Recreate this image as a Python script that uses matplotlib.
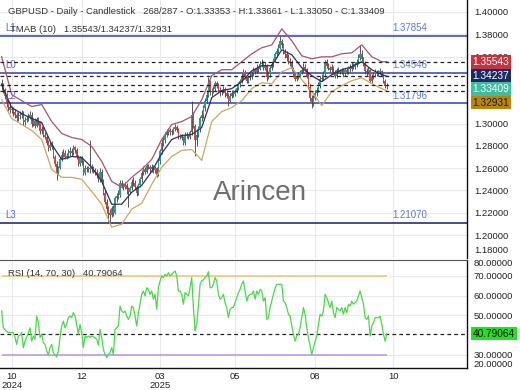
import numpy as np
import matplotlib
matplotlib.use("Agg")
import matplotlib.pyplot as plt
from matplotlib.ticker import FormatStrFormatter, FixedLocator

plt.rcParams['font.family'] = ['Liberation Sans', 'DejaVu Sans']

# ---------------- data (prices in pips, i.e. price * 10000) ----------------
opens_pips = [
    13360, 13335, 13300, 13250, 13180, 13150, 13120, 13130, 13100, 13080,
    13050, 13070, 13080, 13090, 13010, 13030, 13045, 13060, 13080, 13000,
    13020, 12980, 13040, 13010, 12930, 12950, 12900, 12880, 12830, 12780,
    12810, 12790, 12700, 12640, 12560, 12600, 12680, 12720, 12740, 12700,
    12710, 12740, 12750, 12740, 12790, 12760, 12700, 12640, 12690, 12650,
    12560, 12600, 12590, 12600, 12590, 12600, 12580, 12570, 12540, 12500,
    12570, 12480, 12380, 12300, 12230, 12200, 12180, 12240, 12200, 12330,
    12350, 12360, 12470, 12440, 12430, 12450, 12410, 12390, 12420, 12480,
    12470, 12430, 12380, 12450, 12500, 12560, 12590, 12570, 12620, 12610,
    12590, 12610, 12580, 12600, 12540, 12660, 12750, 12830, 12850, 12900,
    12920, 12940, 12920, 12930, 12950, 12970, 12940, 12880, 12890, 12870,
    12830, 12900, 12890, 12880, 12920, 13080, 12980, 12850, 12900, 12960,
    13050, 13080, 13140, 13200, 13260, 13370, 13280, 13290, 13310, 13360,
    13340, 13300, 13280, 13290, 13310, 13270, 13250, 13200, 13250, 13270,
    13265, 13290, 13320, 13350, 13380, 13420, 13460, 13420, 13380, 13410,
    13420, 13450, 13480, 13460, 13500, 13490, 13530, 13540, 13500, 13520,
    13420, 13440, 13500, 13530, 13570, 13620, 13650, 13680, 13740, 13700,
    13640, 13620, 13590, 13560, 13550, 13490, 13440, 13400, 13420, 13430,
    13460, 13480, 13510, 13490, 13430, 13330, 13230, 13180, 13230, 13270,
    13300, 13340, 13400, 13410, 13440, 13540, 13520, 13500, 13480, 13510,
    13460, 13430, 13480, 13470, 13460, 13480, 13450, 13480, 13460, 13500,
    13490, 13520, 13510, 13530, 13550, 13590, 13620, 13580, 13540, 13470,
    13460, 13480, 13380, 13420, 13440, 13460, 13455, 13460, 13470, 13430, 13380, 13335.3,
]
closes_pips = [
    13335, 13300, 13250, 13180, 13150, 13120, 13130, 13100, 13080, 13050,
    13070, 13080, 13090, 13010, 13030, 13045, 13060, 13080, 13000, 13020,
    12980, 13040, 13010, 12930, 12950, 12900, 12880, 12830, 12780, 12810,
    12790, 12700, 12640, 12560, 12600, 12680, 12720, 12740, 12700, 12710,
    12740, 12750, 12740, 12790, 12760, 12700, 12640, 12690, 12650, 12560,
    12600, 12590, 12600, 12590, 12600, 12580, 12570, 12540, 12500, 12570,
    12480, 12380, 12300, 12230, 12200, 12180, 12240, 12200, 12330, 12350,
    12360, 12470, 12440, 12430, 12450, 12410, 12390, 12420, 12480, 12470,
    12430, 12380, 12450, 12500, 12560, 12590, 12570, 12620, 12610, 12590,
    12610, 12580, 12600, 12540, 12660, 12750, 12830, 12850, 12900, 12920,
    12940, 12920, 12930, 12950, 12970, 12940, 12880, 12890, 12870, 12830,
    12900, 12890, 12880, 12920, 13080, 12980, 12850, 12900, 12960, 13050,
    13080, 13140, 13200, 13260, 13370, 13280, 13290, 13310, 13360, 13340,
    13300, 13280, 13290, 13310, 13270, 13250, 13200, 13250, 13270, 13265,
    13290, 13320, 13350, 13380, 13420, 13460, 13420, 13380, 13410, 13420,
    13450, 13480, 13460, 13500, 13490, 13530, 13540, 13500, 13520, 13420,
    13440, 13500, 13530, 13570, 13620, 13650, 13680, 13740, 13700, 13640,
    13620, 13590, 13560, 13550, 13490, 13440, 13400, 13420, 13430, 13460,
    13480, 13510, 13490, 13430, 13330, 13230, 13180, 13230, 13270, 13300,
    13340, 13400, 13410, 13440, 13540, 13520, 13500, 13480, 13510, 13460,
    13430, 13480, 13470, 13460, 13480, 13450, 13480, 13460, 13500, 13490,
    13520, 13510, 13530, 13550, 13590, 13620, 13580, 13540, 13470, 13460,
    13480, 13380, 13420, 13440, 13460, 13455, 13460, 13470, 13430, 13380, 13335.3, 13340.9,
]
highs_pips = [
    13400, 13365, 13320, 13270, 13210, 13190, 13160, 13150, 13130, 13100,
    13100, 13110, 13120, 13110, 13060, 13070, 13090, 13110, 13100, 13050,
    13050, 13060, 13060, 13020, 12980, 12970, 12920, 12900, 12850, 12840,
    12840, 12810, 12720, 12660, 12620, 12700, 12750, 12770, 12760, 12740,
    12770, 12790, 12780, 12810, 12800, 12780, 12720, 12710, 12710, 12670,
    12630, 12620, 12620, 12850, 12640, 12620, 12600, 12590, 12560, 12600,
    12590, 12500, 12400, 12320, 12260, 12230, 12260, 12270, 12350, 12380,
    12400, 12490, 12490, 12470, 12480, 12470, 12430, 12440, 12500, 12520,
    12490, 12450, 12470, 12520, 12580, 12620, 12610, 12640, 12640, 12630,
    12640, 12630, 12620, 12610, 12680, 12770, 12860, 12880, 12920, 12950,
    12960, 12960, 12950, 12970, 13000, 12990, 12960, 12910, 12910, 12890,
    12920, 12920, 12910, 12940, 13200, 13100, 13000, 12950, 12980, 13070,
    13120, 13170, 13230, 13300, 13420, 13390, 13320, 13340, 13380, 13380,
    13360, 13330, 13310, 13340, 13330, 13300, 13270, 13270, 13300, 13300,
    13310, 13340, 13370, 13400, 13450, 13490, 13480, 13430, 13430, 13450,
    13470, 13510, 13500, 13530, 13520, 13560, 13580, 13560, 13550, 13530,
    13470, 13520, 13560, 13590, 13640, 13680, 13710, 13786, 13760, 13720,
    13670, 13650, 13620, 13590, 13570, 13510, 13460, 13450, 13460, 13480,
    13500, 13540, 13530, 13500, 13450, 13350, 13260, 13260, 13300, 13330,
    13370, 13430, 13440, 13470, 13570, 13580, 13540, 13520, 13530, 13520,
    13480, 13500, 13510, 13490, 13500, 13500, 13500, 13500, 13520, 13530,
    13550, 13540, 13550, 13580, 13620, 13700, 13660, 13600, 13560, 13500,
    13510, 13490, 13440, 13460, 13490, 13480, 13480, 13500, 13480, 13440, 13400, 13366.1,
]
lows_pips = [
    13300, 13270, 13220, 13150, 13110, 13090, 13090, 13070, 13050, 13020,
    13020, 13040, 13050, 12990, 12990, 13010, 13020, 13040, 12970, 12980,
    12960, 12970, 12990, 12910, 12910, 12880, 12860, 12810, 12750, 12760,
    12770, 12690, 12620, 12490, 12540, 12590, 12660, 12700, 12680, 12680,
    12690, 12710, 12710, 12720, 12740, 12680, 12620, 12620, 12630, 12540,
    12540, 12570, 12570, 12560, 12570, 12560, 12540, 12510, 12480, 12480,
    12460, 12360, 12280, 12200, 12120, 12107, 12160, 12170, 12190, 12300,
    12320, 12340, 12420, 12400, 12410, 12370, 12250, 12370, 12400, 12440,
    12410, 12350, 12360, 12430, 12480, 12540, 12550, 12560, 12590, 12570,
    12570, 12560, 12560, 12520, 12530, 12640, 12730, 12800, 12830, 12880,
    12900, 12900, 12900, 12910, 12930, 12920, 12860, 12860, 12850, 12810,
    12810, 12870, 12860, 12860, 12900, 12960, 12710, 12800, 12880, 12920,
    13020, 13050, 13110, 13180, 13240, 13260, 13250, 13270, 13290, 13320,
    13280, 13250, 13260, 13270, 13240, 13230, 13160, 13190, 13230, 13240,
    13250, 13270, 13300, 13330, 13360, 13400, 13400, 13360, 13360, 13390,
    13400, 13430, 13440, 13450, 13460, 13480, 13510, 13480, 13480, 13380,
    13400, 13420, 13480, 13510, 13550, 13600, 13630, 13670, 13680, 13620,
    13590, 13560, 13530, 13520, 13470, 13420, 13380, 13380, 13400, 13410,
    13440, 13460, 13470, 13410, 13310, 13200, 13142, 13160, 13210, 13250,
    13280, 13320, 13380, 13390, 13420, 13500, 13480, 13460, 13460, 13440,
    13410, 13410, 13450, 13440, 13440, 13420, 13430, 13440, 13440, 13460,
    13470, 13490, 13490, 13510, 13530, 13570, 13560, 13520, 13440, 13430,
    13440, 13360, 13360, 13400, 13420, 13430, 13430, 13440, 13420, 13360, 13320, 13305.0,
]

rsi_values = [
    52.3, 43.8, 42.8, 42.0, 41.3, 41.5, 41.3, 41.3, 39.0, 35.4,
    39.6, 40.0, 41.3, 33.7, 37.0, 39.0, 41.0, 43.8, 37.0, 39.6,
    37.9, 49.7, 46.4, 38.8, 40.5, 36.2, 35.4, 32.0, 30.0, 33.7,
    35.4, 31.2, 30.0, 29.0, 32.0, 38.8, 44.7, 47.2, 43.8, 45.5,
    48.9, 49.7, 48.9, 51.4, 49.7, 45.5, 40.5, 45.5, 41.3, 33.7,
    39.6, 38.8, 39.6, 38.8, 39.6, 39.2, 38.8, 37.9, 35.0, 43.0,
    38.8, 32.9, 30.3, 28.6, 30.3, 31.2, 33.7, 30.3, 43.0, 43.8,
    44.7, 54.8, 52.3, 51.4, 52.3, 49.7, 48.0, 49.7, 54.8, 54.0,
    49.7, 44.7, 51.4, 55.7, 60.7, 62.4, 59.9, 64.1, 63.2, 60.7,
    62.4, 58.2, 60.7, 53.1, 64.1, 67.5, 70.0, 69.2, 70.8, 70.0,
    71.7, 70.0, 70.8, 71.7, 72.5, 70.0, 62.4, 62.4, 60.7, 55.7,
    61.6, 60.7, 59.9, 64.0, 69.2, 54.0, 42.1, 45.5, 55.0, 65.8,
    67.5, 68.0, 69.2, 70.0, 72.2, 64.1, 64.1, 65.8, 69.2, 67.5,
    60.7, 58.2, 59.0, 60.7, 56.5, 54.0, 48.9, 53.1, 54.0, 54.0,
    56.5, 59.0, 61.6, 63.2, 65.8, 67.5, 62.4, 57.3, 59.9, 60.7,
    60.7, 62.4, 58.2, 62.4, 60.7, 63.2, 62.4, 57.3, 59.0, 48.0,
    48.9, 54.0, 57.3, 60.7, 64.1, 65.8, 65.8, 65.8, 65.8, 57.3,
    56.5, 54.0, 50.6, 49.7, 44.7, 40.5, 37.0, 39.6, 40.5, 43.8,
    48.9, 54.0, 50.6, 43.8, 38.8, 34.6, 30.3, 33.7, 37.0, 39.6,
    45.5, 50.6, 49.7, 52.3, 60.7, 59.0, 56.5, 54.0, 57.3, 51.4,
    48.9, 54.0, 53.1, 52.3, 54.0, 50.6, 54.0, 51.4, 55.7, 54.8,
    57.3, 55.7, 56.5, 57.3, 59.9, 62.4, 59.0, 55.7, 48.9, 48.0,
    49.7, 39.6, 44.7, 46.4, 48.9, 48.9, 48.9, 49.7, 45.5, 40.5, 37.0, 40.79,
]

# TMAB(10) bands, sampled every 6th candle (plus the last one)
band_idx = [0, 6, 12, 18, 24, 30, 36, 42, 48, 54, 60, 66, 72, 78, 84, 90, 96, 102,
            108, 114, 120, 126, 132, 138, 144, 150, 156, 162, 168, 174, 180, 186,
            192, 198, 204, 210, 216, 222, 228, 231]
tmab_upper = [1.3598, 1.3259, 1.3205, 1.3152, 1.3170, 1.3018, 1.2911, 1.2875, 1.2857, 1.2795,
              1.2661, 1.2482, 1.2429, 1.2518, 1.2589, 1.2679, 1.2857, 1.2991, 1.3018, 1.3063,
              1.3214, 1.3429, 1.3482, 1.3482, 1.3554, 1.3625, 1.3679, 1.3705, 1.3848, 1.3741,
              1.3607, 1.3580, 1.3598, 1.3598, 1.3625, 1.3634, 1.3705, 1.3598, 1.3554, 1.35543]
tmab_mid = [1.3348, 1.3143, 1.3089, 1.3045, 1.3009, 1.2813, 1.2679, 1.2705, 1.2696, 1.2607,
            1.2482, 1.2277, 1.2277, 1.2384, 1.2446, 1.2571, 1.2732, 1.2857, 1.2893, 1.2902,
            1.2964, 1.3232, 1.3295, 1.3313, 1.3375, 1.3473, 1.3518, 1.3518, 1.3661, 1.3616,
            1.3500, 1.3429, 1.3375, 1.3438, 1.3482, 1.3509, 1.3554, 1.3482, 1.3438, 1.34237]
tmab_lower = [1.3214, 1.3045, 1.2991, 1.2938, 1.2857, 1.2589, 1.2518, 1.2518, 1.2500, 1.2393,
              1.2277, 1.2071, 1.2098, 1.2232, 1.2286, 1.2455, 1.2607, 1.2705, 1.2759, 1.2768,
              1.2670, 1.3018, 1.3107, 1.3143, 1.3205, 1.3313, 1.3366, 1.3357, 1.3464, 1.3500,
              1.3393, 1.3286, 1.3161, 1.3286, 1.3339, 1.3384, 1.3411, 1.3357, 1.3313, 1.32931]

level_values = [1.37854, 1.34546, 1.31796, 1.21070]
level_names = ['L1', 'L0', 'L2', 'L3']
last_values = [1.35543, 1.34237, 1.33409, 1.32931]   # TMAB upper / mid, close, TMAB lower
rsi_last = 40.79064
rsi_levels = [70, 30]

xtick_idx = [6, 48, 95, 140, 188, 235]
xtick_labels = ['10\n2024', '12', '03\n2025', '05', '08', '10']
price_ticks = [1.20, 1.22, 1.24, 1.26, 1.28, 1.30, 1.36, 1.38, 1.40]
price_edge_label = '1.18000'
rsi_ticks = [30, 50, 60, 70]
rsi_edge_labels = ['80.00000', '20.00000']

opens = np.array(opens_pips) / 10000.0
closes = np.array(closes_pips) / 10000.0
highs = np.array(highs_pips) / 10000.0
lows = np.array(lows_pips) / 10000.0
rsi = np.array(rsi_values)
idx = np.arange(len(closes))

# ---------------- figure ----------------
fig = plt.figure(figsize=(5.2, 3.9), dpi=100)
fig.patch.set_facecolor('white')
ax = fig.add_axes([0, 132 / 390, 467 / 520, 258 / 390])
axr = fig.add_axes([0, 22 / 390, 467 / 520, 108 / 390])

XLIM = (-1, 279.1)
TICK_FS = 6.8
for a in (ax, axr):
    a.set_xlim(*XLIM)
    a.set_facecolor('white')
    a.grid(True, color='#e9e9e9', lw=0.8, zorder=0)
    a.set_axisbelow(True)
    a.xaxis.set_major_locator(FixedLocator(xtick_idx))
    a.yaxis.tick_right()
    a.tick_params(axis='both', length=0, labelsize=TICK_FS, labelcolor='#222222', pad=5)
    for s in ('left', 'top'):
        a.spines[s].set_visible(False)
    a.spines['right'].set_color('#111111')
    a.spines['right'].set_linewidth(1.0)

ax.spines['bottom'].set_visible(False)
ax.tick_params(axis='x', labelbottom=False)
axr.spines['top'].set_visible(True)
axr.spines['top'].set_color('#555555')
axr.spines['bottom'].set_color('#111111')
axr.spines['bottom'].set_linewidth(1.0)

# ---- main price panel ----
ax.set_ylim(1.1795, 1.4107)
ax.yaxis.set_major_locator(FixedLocator(price_ticks))
ax.yaxis.set_major_formatter(FormatStrFormatter('%.5f'))
ax.annotate(price_edge_label, xy=(1.0, 0.031), xycoords='axes fraction',
            xytext=(5, 0), textcoords='offset points', ha='left', va='center',
            fontsize=TICK_FS, color='#222222', annotation_clip=False)

body_lo = np.minimum(opens, closes)
body_hi = np.maximum(opens, closes)
up = closes >= opens
ax.vlines(idx, np.minimum(lows, body_lo), np.maximum(highs, body_hi),
          color='#3c3c3c', lw=0.6, zorder=3)
ax.bar(idx, np.maximum(body_hi - body_lo, 0.00005), bottom=body_lo, width=0.8,
       color=np.where(up, '#2a9d8f', '#d64545'), edgecolor='none', zorder=4)

ax.plot(band_idx, tmab_upper, color='#a4566a', lw=0.9, zorder=5)
ax.plot(band_idx, tmab_mid, color='#26305e', lw=0.9, zorder=5)
ax.plot(band_idx, tmab_lower, color='#c9a85c', lw=0.9, zorder=5)

level_colors = ['#3f4fbf', '#3f4fbf', '#3f4fbf', '#2b2f7a']
for v, name, c in zip(level_values, level_names, level_colors):
    ax.axhline(v, color=c, lw=1.2, zorder=2)
    ax.annotate(name, xy=(0.012, v), xycoords=('axes fraction', 'data'),
                xytext=(0, 2), textcoords='offset points', ha='left', va='bottom',
                fontsize=7, color='#5a6fd0', zorder=6)
    ax.annotate(f'{v:.5f}', xy=(0.878, v), xycoords=('axes fraction', 'data'),
                xytext=(0, 2), textcoords='offset points', ha='center', va='bottom',
                fontsize=7, color='#5b7bd5', zorder=6)

for v in last_values:
    ax.axhline(v, color='#222222', lw=0.9, ls=(0, (3, 2.5)), zorder=6)

box_styles = [('#c8323c', 'white', 0.0), ('#1e2a66', 'white', 0.0),
              ('#3cbf9f', 'white', -2.5), ('#b8860b', '#1a1a1a', -8.5)]
for v, (fc, tc, dy) in zip(last_values, box_styles):
    ax.annotate(f'{v:.5f}', xy=(1.0, v), xycoords=('axes fraction', 'data'),
                xytext=(4, dy), textcoords='offset points', ha='left', va='center',
                fontsize=7.3, color=tc, zorder=10, annotation_clip=False,
                bbox=dict(boxstyle='square,pad=0.18', fc=fc, ec='none'))

# ---- RSI panel ----
axr.set_ylim(23.4, 78.1)
axr.yaxis.set_major_locator(FixedLocator(rsi_ticks))
axr.yaxis.set_major_formatter(FormatStrFormatter('%.5f'))
axr.hlines(rsi_levels[0], idx[0], idx[-1], color='#f2c46e', lw=1.1, zorder=2)
axr.hlines(rsi_levels[1], idx[0], idx[-1], color='#b794e6', lw=1.1, zorder=2)
axr.axhline(rsi_last, color='#222222', lw=0.9, ls=(0, (3, 2.5)), zorder=3)
axr.plot(idx, rsi, color='#4cd64c', lw=0.9, zorder=4)
axr.set_xticks(xtick_idx)
axr.set_xticklabels(xtick_labels, fontsize=TICK_FS, color='#222222', linespacing=1.0)
axr.tick_params(axis='x', pad=3)
for lab, yfrac in zip(rsi_edge_labels, [0.963, 0.028]):
    axr.annotate(lab, xy=(1.0, yfrac), xycoords='axes fraction',
                 xytext=(5, 0), textcoords='offset points', ha='left', va='center',
                 fontsize=TICK_FS, color='#222222', annotation_clip=False)
axr.annotate(f'{rsi_last:.5f}', xy=(1.0, rsi_last), xycoords=('axes fraction', 'data'),
             xytext=(4, 0), textcoords='offset points', ha='left', va='center',
             fontsize=7.3, color='#111111', zorder=10, annotation_clip=False,
             bbox=dict(boxstyle='square,pad=0.18', fc='#22e022', ec='none'))

# ---- texts ----
fig.text(8 / 520, 1 - 12 / 390,
         'GBPUSD - Daily - Candlestick   268/287 - O:1.33353 - H:1.33661 - L:1.33050 - C:1.33409',
         ha='left', va='center', fontsize=6.8, color='#333333')
fig.text(10 / 520, 1 - 29 / 390, 'TMAB (10)   1.35543/1.34237/1.32931',
         ha='left', va='center', fontsize=6.8, color='#333333')
fig.text(8 / 520, 1 - 274 / 390, 'RSI (14, 70, 30)   40.79064',
         ha='left', va='center', fontsize=6.8, color='#333333')
fig.text(260 / 520, 1 - 193 / 390, 'Arincen', ha='center', va='center',
         fontsize=20, color='#6e6e6e')

fig.savefig('out.png', dpi=100, facecolor='white')
